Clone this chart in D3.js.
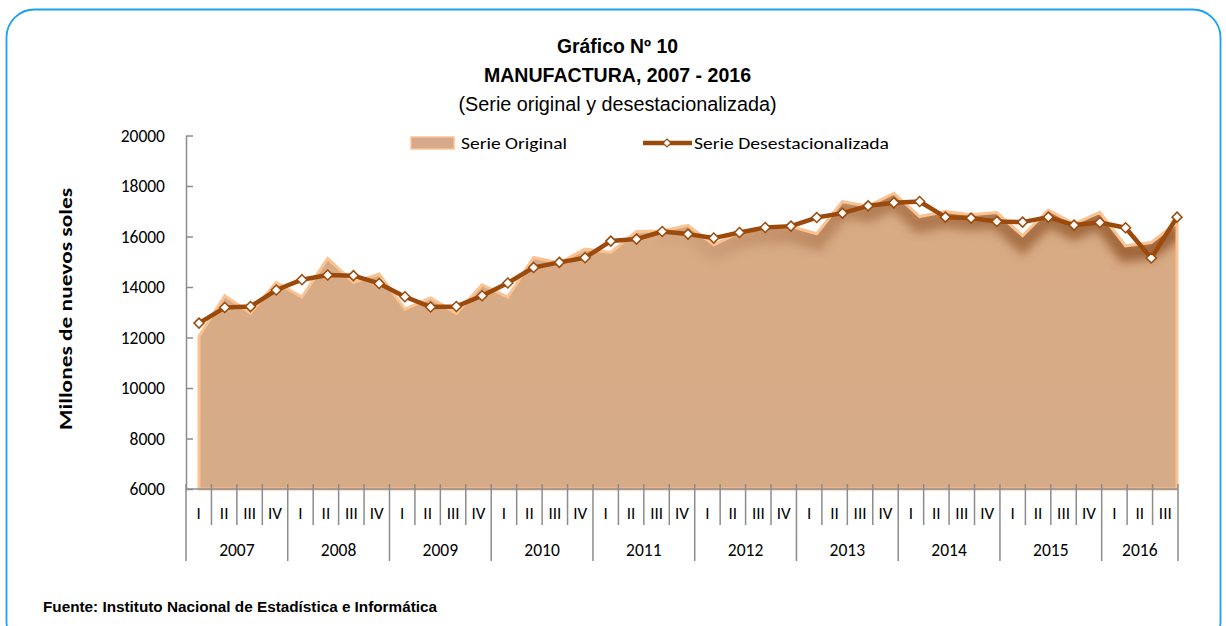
<!DOCTYPE html>
<html>
<head>
<meta charset="utf-8">
<script src="https://cdn.jsdelivr.net/npm/d3@7"></script>
<style>
  html, body { margin: 0; padding: 0; background: #ffffff; }
  svg { display: block; }
</style>
</head>
<body>
<svg id="chart" width="1226" height="626"></svg>
<script>
// Manufacturing output, quarterly 2007 Q1 – 2016 Q3 (millions of nuevos soles)
const years = ["2007", "2008", "2009", "2010", "2011", "2012", "2013", "2014", "2015", "2016"];
const quarterLabels = [
  "I","II","III","IV", "I","II","III","IV", "I","II","III","IV", "I","II","III","IV",
  "I","II","III","IV", "I","II","III","IV", "I","II","III","IV", "I","II","III","IV",
  "I","II","III","IV", "I","II","III"
];
const serieOriginal = [
  12050, 13650, 12970, 14180,
  13600, 15130, 14180, 14510,
  13120, 13570, 12960, 14090,
  13600, 15170, 14950, 15500,
  15370, 16200, 16220, 16440,
  15670, 16160, 16340, 16400,
  16110, 17380, 17200, 17715,
  16790, 16990, 16860, 16950,
  16030, 17050, 16500, 16960,
  15630, 15760, 16550
];
const serieDesestacionalizada = [
  12570, 13186, 13225, 13880,
  14290, 14475, 14450, 14140,
  13615, 13210, 13230, 13655,
  14160, 14775, 14975, 15160,
  15818, 15897, 16198, 16095,
  15937, 16158, 16356, 16411,
  16751, 16925, 17214, 17333,
  17385, 16767, 16728, 16593,
  16570, 16767, 16451, 16554,
  16344, 15146, 16767
];
const yTicks = [6000, 8000, 10000, 12000, 14000, 16000, 18000, 20000];

const svg = d3.select("#chart");
const defs = svg.append("defs");

// frame
svg.append("rect")
  .attr("x", 6.5).attr("y", 9.5)
  .attr("width", 1214).attr("height", 640)
  .attr("rx", 28).attr("ry", 28)
  .attr("fill", "#ffffff")
  .attr("stroke", "#1aa1f2")
  .attr("stroke-width", 1.8);

// scales
const idx = d3.range(serieOriginal.length);
const xBand = d3.scaleBand().domain(idx).range([186, 1178]);
const xPt = d3.scalePoint().domain(idx).range([199, 1177]);
const y = d3.scaleLinear().domain([6000, 20000]).range([489, 135.5]);

// titles
const titleFont = "'Liberation Sans Narrow', 'Arial Narrow', 'Liberation Sans', Arial, sans-serif";
const titles = [
  { text: "Gráfico Nº 10", y: 53, weight: "bold", len: 121 },
  { text: "MANUFACTURA, 2007 - 2016", y: 82, weight: "bold", len: 267 },
  { text: "(Serie original y desestacionalizada)", y: 111, weight: "normal", len: 318 }
];
svg.selectAll("text.title").data(titles).join("text")
  .attr("class", "title")
  .attr("x", 617.5).attr("y", d => d.y)
  .attr("text-anchor", "middle")
  .attr("font-family", titleFont)
  .attr("font-size", 19.5)
  .attr("font-weight", d => d.weight)
  .attr("fill", "#000")
  .attr("textLength", d => d.len)
  .attr("lengthAdjust", "spacingAndGlyphs")
  .text(d => d.text);

// area of the original series
const area = d3.area()
  .x((d, i) => xPt(i))
  .y0(y(6000))
  .y1(d => y(d));
const topLine = d3.line()
  .x((d, i) => xPt(i))
  .y(d => y(d));

defs.append("clipPath").attr("id", "areaClip")
  .append("path").attr("d", area(serieOriginal));

const shadeGrad = defs.append("linearGradient")
  .attr("id", "shadeGrad")
  .attr("gradientUnits", "userSpaceOnUse")
  .attr("x1", 650).attr("x2", 1177).attr("y1", 0).attr("y2", 0);
shadeGrad.append("stop").attr("offset", 0).attr("stop-color", "#fff").attr("stop-opacity", 0);
shadeGrad.append("stop").attr("offset", 0.45).attr("stop-color", "#fff").attr("stop-opacity", 0.65);
shadeGrad.append("stop").attr("offset", 1).attr("stop-color", "#fff").attr("stop-opacity", 1);
defs.append("mask").attr("id", "shadeMask")
  .attr("maskUnits", "userSpaceOnUse")
  .attr("x", 0).attr("y", 0).attr("width", 1226).attr("height", 626)
  .append("rect").attr("x", 0).attr("y", 0).attr("width", 1226).attr("height", 626)
  .attr("fill", "url(#shadeGrad)");

const blur = defs.append("filter").attr("id", "soft")
  .attr("x", "-10%").attr("y", "-50%").attr("width", "120%").attr("height", "200%");
blur.append("feGaussianBlur").attr("stdDeviation", 5);

const fillGrad = defs.append("linearGradient")
  .attr("id", "fillGrad").attr("x1", 0).attr("x2", 0).attr("y1", 0).attr("y2", 1);
fillGrad.append("stop").attr("offset", 0).attr("stop-color", "#d8ab84");
fillGrad.append("stop").attr("offset", 1).attr("stop-color", "#d6ab88");

svg.append("path")
  .attr("d", area(serieOriginal))
  .attr("fill", "url(#fillGrad)");

// soft darkening under the upper edge
svg.append("g")
  .attr("clip-path", "url(#areaClip)")
  .append("g").attr("mask", "url(#shadeMask)")
  .append("path")
  .attr("d", topLine(serieOriginal))
  .attr("transform", "translate(0,7)")
  .attr("fill", "none")
  .attr("stroke", "#93552a")
  .attr("stroke-width", 18)
  .attr("stroke-opacity", 0.85)
  .attr("filter", "url(#soft)");

svg.append("path")
  .attr("d", area(serieOriginal))
  .attr("fill", "none")
  .attr("stroke", "#fbc292")
  .attr("stroke-width", 3)
  .attr("stroke-linejoin", "miter");

// axes
const axisColor = "#8c8c8c";
const tickFont = "Carlito, Calibri, Lato, 'Open Sans', sans-serif";

const yAxis = svg.append("g")
  .attr("transform", "translate(186,0)")
  .call(d3.axisLeft(y).tickValues(yTicks).tickFormat(d3.format("d"))
    .tickSizeInner(-7).tickSizeOuter(0).tickPadding(21));
yAxis.select(".domain").attr("stroke", axisColor).attr("stroke-width", 1.5);
yAxis.selectAll(".tick line").attr("stroke", axisColor).attr("stroke-width", 1.5);
yAxis.selectAll(".tick text")
  .attr("font-family", tickFont).attr("font-size", 17.5).attr("fill", "#000");

const xAxis = svg.append("g");
xAxis.append("line")
  .attr("x1", 186).attr("x2", 1178).attr("y1", 489).attr("y2", 489)
  .attr("stroke", axisColor).attr("stroke-width", 1.5);
const bounds = d3.range(serieOriginal.length + 1);
xAxis.selectAll("line.sep").data(bounds).join("line")
  .attr("class", "sep")
  .attr("x1", i => i < idx.length ? xBand(i) : xBand.range()[1])
  .attr("x2", i => i < idx.length ? xBand(i) : xBand.range()[1])
  .attr("y1", 484)
  .attr("y2", i => (i % 4 === 0 || i === idx.length) ? 561 : 525)
  .attr("stroke", axisColor).attr("stroke-width", 1.5);
xAxis.selectAll("text.q").data(quarterLabels).join("text")
  .attr("class", "q")
  .attr("x", (d, i) => xBand(i) + xBand.bandwidth() / 2)
  .attr("y", 519)
  .attr("text-anchor", "middle")
  .attr("font-family", tickFont).attr("font-size", 17).attr("fill", "#000")
  .text(d => d);
xAxis.selectAll("text.yr").data(years).join("text")
  .attr("class", "yr")
  .attr("x", (d, k) => {
    const a = xBand(4 * k);
    const last = Math.min(4 * k + 4, idx.length);
    const b = last < idx.length ? xBand(last) : xBand.range()[1];
    return (a + b) / 2;
  })
  .attr("y", 556)
  .attr("text-anchor", "middle")
  .attr("font-family", tickFont).attr("font-size", 17.5).attr("fill", "#000")
  .text(d => d);

// seasonally adjusted series
const lineColor = "#9c4a0b";
const diamond = "M0,-5L5,0L0,5L-5,0Z";
svg.append("path")
  .attr("d", d3.line().x((d, i) => xPt(i)).y(d => y(d))(serieDesestacionalizada))
  .attr("fill", "none")
  .attr("stroke", lineColor)
  .attr("stroke-width", 4.5)
  .attr("stroke-linejoin", "round");
svg.selectAll("path.mk").data(serieDesestacionalizada).join("path")
  .attr("class", "mk")
  .attr("d", diamond)
  .attr("transform", (d, i) => `translate(${xPt(i)},${y(d)})`)
  .attr("fill", "#ffffff")
  .attr("stroke", lineColor)
  .attr("stroke-width", 1.5);

// y-axis title
svg.append("text")
  .attr("transform", "translate(72,309) rotate(-90)")
  .attr("text-anchor", "middle")
  .attr("font-family", tickFont).attr("font-size", 18).attr("font-weight", "bold")
  .attr("fill", "#000")
  .attr("textLength", 242).attr("lengthAdjust", "spacingAndGlyphs")
  .text("Millones de nuevos soles");

// legend
const legend = svg.append("g");
legend.append("rect")
  .attr("x", 411).attr("y", 137).attr("width", 43).attr("height", 12)
  .attr("fill", "#d6a98a").attr("stroke", "#fbc292").attr("stroke-width", 1.5);
legend.append("text")
  .attr("x", 461).attr("y", 149)
  .attr("font-family", tickFont).attr("font-size", 16.5).attr("fill", "#000")
  .attr("textLength", 106).attr("lengthAdjust", "spacingAndGlyphs")
  .text("Serie Original");
legend.append("line")
  .attr("x1", 643).attr("x2", 692).attr("y1", 143).attr("y2", 143)
  .attr("stroke", lineColor).attr("stroke-width", 4.5);
legend.append("path")
  .attr("d", diamond)
  .attr("transform", "translate(667,143) scale(0.8)")
  .attr("fill", "#fff").attr("stroke", lineColor).attr("stroke-width", 1.5);
legend.append("text")
  .attr("x", 694).attr("y", 149)
  .attr("font-family", tickFont).attr("font-size", 16.5).attr("fill", "#000")
  .attr("textLength", 195).attr("lengthAdjust", "spacingAndGlyphs")
  .text("Serie Desestacionalizada");

// source note
svg.append("text")
  .attr("x", 43).attr("y", 612)
  .attr("font-family", titleFont).attr("font-size", 14).attr("font-weight", "bold")
  .attr("fill", "#000")
  .attr("textLength", 394).attr("lengthAdjust", "spacingAndGlyphs")
  .text("Fuente: Instituto Nacional de Estadística e Informática");
</script>
</body>
</html>
